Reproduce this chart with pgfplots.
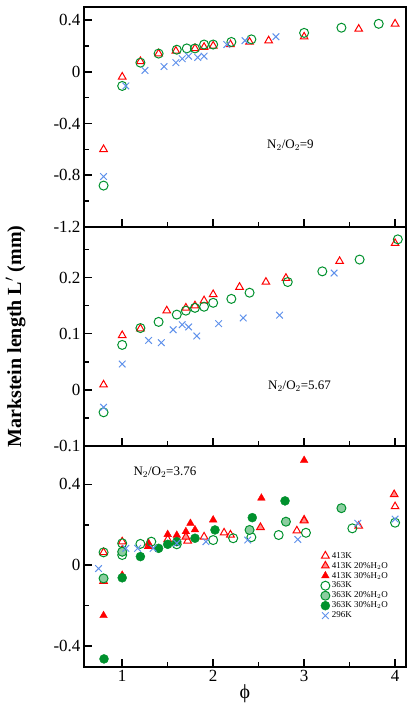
\documentclass[border=0pt]{standalone}
\usepackage{fontspec}
\setmainfont{Liberation Serif}
\usepackage{pgfplots}
\pgfplotsset{compat=1.18}
\usepgfplotslibrary{groupplots}
\usetikzlibrary{calc}
\definecolor{rr}{RGB}{255,0,0}
\definecolor{gg}{RGB}{0,145,45}
\definecolor{bb}{RGB}{95,145,235}
\begin{document}
\begin{tikzpicture}
\pgfplotsset{
  s413/.style={only marks, mark=triangle, mark size=4.4pt, rr, mark options={line width=1pt}},
  s413b/.style={only marks, mark=triangle*, mark size=4.4pt, rr, mark options={fill=rr!45, line width=1pt}},
  s413c/.style={only marks, mark=triangle*, mark size=4.4pt, rr, mark options={fill=rr}},
  s363/.style={only marks, mark=o, mark size=4.5pt, gg, mark options={line width=1pt}},
  s363b/.style={only marks, mark=*, mark size=4.5pt, gg, mark options={fill=gg!45, line width=1pt}},
  s363c/.style={only marks, mark=*, mark size=4.5pt, gg, mark options={fill=gg}},
  s296/.style={only marks, mark=x, mark size=4.7pt, bb, mark options={line width=1pt}},
}
\begin{groupplot}[
  group style={group size=1 by 3, vertical sep=0pt, xticklabels at=edge bottom},
  scale only axis, width=322pt,
  xmin=0.58, xmax=4.12,
  axis line style={line width=1.6pt},
  tick style={line width=1.6pt, black},
  major tick length=8pt, minor tick length=5pt,
  tick align=inside, xtick pos=bottom, ytick pos=left,
  xtick={1,2,3,4}, minor xtick={1.5,2.5,3.5},
  tick label style={font=\fontsize{17}{17}\selectfont},
  /pgf/number format/assume math mode=true,
  yticklabel style={/pgf/number format/fixed},
  clip=false,
]
\nextgroupplot[height=220pt, ymin=-1.2, ymax=0.5,
  ytick={-1.2,-0.8,-0.4,0,0.4}, minor ytick={-1,-0.6,-0.2,0.2},
  yticklabels={-1.2,-0.8,-0.4,0,0.4}]
\addplot[s413] coordinates {(0.795,-0.6)(1.0,-0.04)(1.2,0.08)(1.4,0.14)(1.59,0.16)(1.8,0.18)(1.9,0.19)(2.0,0.2)(2.19,0.21)(2.4,0.23)(2.61,0.24)(3.0,0.27)(3.6,0.33)(4.0,0.37)};
\addplot[s363] coordinates {(0.795,-0.88)(1.0,-0.11)(1.2,0.07)(1.4,0.14)(1.6,0.17)(1.71,0.18)(1.8,0.18)(1.9,0.21)(2.0,0.21)(2.2,0.23)(2.42,0.25)(3.0,0.3)(3.41,0.34)(3.82,0.37)};
\addplot[s296] coordinates {(0.795,-0.81)(1.04,-0.11)(1.25,0.01)(1.46,0.04)(1.59,0.07)(1.66,0.10)(1.73,0.12)(1.83,0.11)(1.9,0.12)(2.15,0.21)(2.35,0.24)(2.69,0.27)};
\node[font=\fontsize{13}{13}\selectfont] at (axis cs:2.85,-0.57) {N$_2$/O$_2$=9};
\nextgroupplot[height=219pt, ymin=-0.1, ymax=0.29,
  ytick={-0.1,0,0.1,0.2}, minor ytick={-0.05,0.05,0.15,0.25},
  yticklabels={-0.1,0,0.1,0.2},
  ylabel={Markstein length L$'$ (mm)},
  ylabel style={font=\fontsize{20}{20}\selectfont\bfseries, at={(-55pt,0.5)}, anchor=south}]
\addplot[s413] coordinates {(0.795,0.009)(1.0,0.097)(1.2,0.109)(1.49,0.141)(1.7,0.146)(1.8,0.15)(1.9,0.159)(2.0,0.17)(2.29,0.183)(2.58,0.192)(2.8,0.199)(3.39,0.229)(4.0,0.261)};
\addplot[s363] coordinates {(0.795,-0.04)(1.0,0.08)(1.2,0.11)(1.4,0.121)(1.6,0.134)(1.7,0.141)(1.8,0.146)(1.9,0.148)(2.0,0.155)(2.2,0.162)(2.4,0.173)(2.82,0.192)(3.2,0.211)(3.61,0.232)(4.03,0.268)};
\addplot[s296] coordinates {(0.795,-0.031)(1.0,0.046)(1.29,0.088)(1.43,0.084)(1.56,0.107)(1.66,0.116)(1.73,0.112)(1.82,0.096)(2.06,0.118)(2.33,0.128)(2.73,0.133)(3.33,0.208)};
\node[font=\fontsize{13}{13}\selectfont] at (axis cs:2.95,0.006) {N$_2$/O$_2$=5.67};
\nextgroupplot[height=221pt, ymin=-0.505, ymax=0.59,
  ytick={-0.4,0,0.4}, minor ytick={-0.2,0.2},
  yticklabels={-0.4,0,0.4},
  xlabel={ϕ}, xlabel style={font=\fontsize{20}{20}\selectfont, yshift=4pt},
  legend style={at={(0.735,0.53)}, anchor=north west, draw=none, fill=none,
    font=\fontsize{9}{10}\selectfont, row sep=-1.5pt, inner sep=0pt},
  legend cell align=left]
\addplot[s413] coordinates {(0.795,0.063)(1.0,0.116)(1.29,0.094)(1.5,0.127)(1.72,0.12)(1.9,0.14)(2.12,0.16)(2.19,0.15)(2.92,0.17)(3.0,0.224)(3.6,0.194)(4.0,0.29)};
\addlegendentry{413K}
\addplot[s413b] coordinates {(0.795,-0.08)(1.0,0.075)(1.7,0.14)(2.52,0.187)(3.0,0.22)(3.99,0.35)};
\addlegendentry{413K 20\%H$_2$O}
\addplot[s413c] coordinates {(0.795,-0.25)(1.0,-0.05)(1.29,0.108)(1.3,0.095)(1.5,0.152)(1.6,0.148)(1.7,0.166)(1.75,0.207)(1.8,0.175)(2.0,0.224)(2.53,0.332)(3.0,0.519)};
\addlegendentry{413K 30\%H$_2$O}
\addplot[s363] coordinates {(0.795,0.063)(1.0,0.108)(1.0,0.05)(1.2,0.105)(1.32,0.116)(1.6,0.103)(2.0,0.124)(2.22,0.133)(2.42,0.138)(2.72,0.149)(3.02,0.16)(3.53,0.182)(4.0,0.21)};
\addlegendentry{363K}
\addplot[s363b] coordinates {(0.795,-0.066)(1.0,0.066)(2.4,0.174)(2.8,0.215)(3.41,0.282)};
\addlegendentry{363K 20\%H$_2$O}
\addplot[s363c] coordinates {(0.80,-0.465)(1.0,-0.063)(1.2,0.042)(1.4,0.083)(1.5,0.103)(1.6,0.116)(1.8,0.133)(2.02,0.174)(2.43,0.235)(2.79,0.318)};
\addlegendentry{363K 30\%H$_2$O}
\addplot[s296] coordinates {(0.74,-0.017)(1.04,0.083)(1.17,0.083)(1.34,0.083)(1.6,0.108)(1.92,0.116)(2.38,0.124)(2.93,0.127)(3.59,0.207)(4.0,0.228)};
\addlegendentry{296K}
\node[font=\fontsize{13}{13}\selectfont] at (axis cs:1.47,0.46) {N$_2$/O$_2$=3.76};
\end{groupplot}
\pgfresetboundingbox
\path ($(group c1r3.south west)+(-84pt,-55pt)$) rectangle ($(group c1r1.north east)+(1pt,7pt)$);
\end{tikzpicture}
\end{document}
